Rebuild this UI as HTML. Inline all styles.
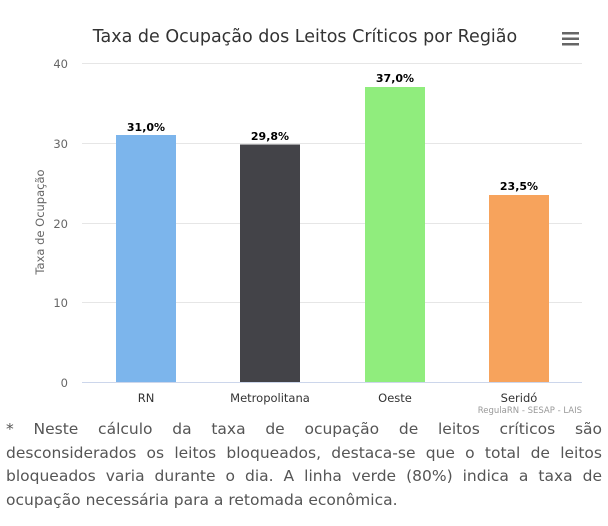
<!DOCTYPE html>
<html><head><meta charset="utf-8"><style>
body{margin:0;width:608px;height:526px;background:#fff;overflow:hidden;font-family:"DejaVu Sans","Liberation Sans",sans-serif}
#t{position:absolute;left:6px;top:418px;width:596px;font-size:15.5px;line-height:23.5px;color:#555}
#t div{text-align:justify;text-align-last:justify;white-space:nowrap}
#t div.l{text-align-last:left}
</style></head><body>
<svg width="608" height="420" style="position:absolute;left:0;top:0" font-family="DejaVu Sans, Liberation Sans, sans-serif">
<text x="305" y="42" text-anchor="middle" font-size="17.5" fill="#333">Taxa de Ocupação dos Leitos Críticos por Região</text>
<g fill="#666"><rect x="562" y="32" width="17" height="2.5"/><rect x="562" y="37.5" width="17" height="2.5"/><rect x="562" y="43" width="17" height="2.5"/></g>
<g stroke="#e6e6e6" stroke-width="1">
<line x1="82" x2="582" y1="63.5" y2="63.5"/><line x1="82" x2="582" y1="143.5" y2="143.5"/><line x1="82" x2="582" y1="223.5" y2="223.5"/><line x1="82" x2="582" y1="302.5" y2="302.5"/>
</g>
<g font-size="11.5" fill="#666" text-anchor="end"><text x="68" y="68">40</text><text x="68" y="148">30</text><text x="68" y="228">20</text><text x="68" y="307">10</text><text x="68" y="387">0</text></g>
<text transform="translate(44,222) rotate(-90)" text-anchor="middle" font-size="11.5" fill="#666">Taxa de Ocupação</text>
<rect x="116" y="135" width="60" height="247" fill="#7cb5ec"/>
<rect x="240" y="144.5" width="60" height="237.5" fill="#434348"/>
<rect x="365" y="87" width="60" height="295" fill="#90ed7d"/>
<rect x="489" y="195" width="60" height="187" fill="#f7a35c"/>
<line x1="82" x2="582" y1="382.5" y2="382.5" stroke="#ccd6eb"/>
<g font-size="11" font-weight="bold" fill="#000" text-anchor="middle"><text x="146" y="131">31,0%</text><text x="270" y="140">29,8%</text><text x="395" y="82">37,0%</text><text x="519" y="190">23,5%</text></g>
<g font-size="11.5" fill="#333" text-anchor="middle"><text x="146" y="402">RN</text><text x="270" y="402">Metropolitana</text><text x="395" y="402">Oeste</text><text x="519" y="402">Seridó</text></g>
<text x="582" y="413" text-anchor="end" font-size="8.5" fill="#999">RegulaRN - SESAP - LAIS</text>
</svg>
<div id="t">
<div>* Neste cálculo da taxa de ocupação de leitos críticos são</div>
<div>desconsiderados os leitos bloqueados, destaca-se que o total de leitos</div>
<div>bloqueados varia durante o dia. A linha verde (80%) indica a taxa de</div>
<div class="l">ocupação necessária para a retomada econômica.</div>
</div>
</body></html>
